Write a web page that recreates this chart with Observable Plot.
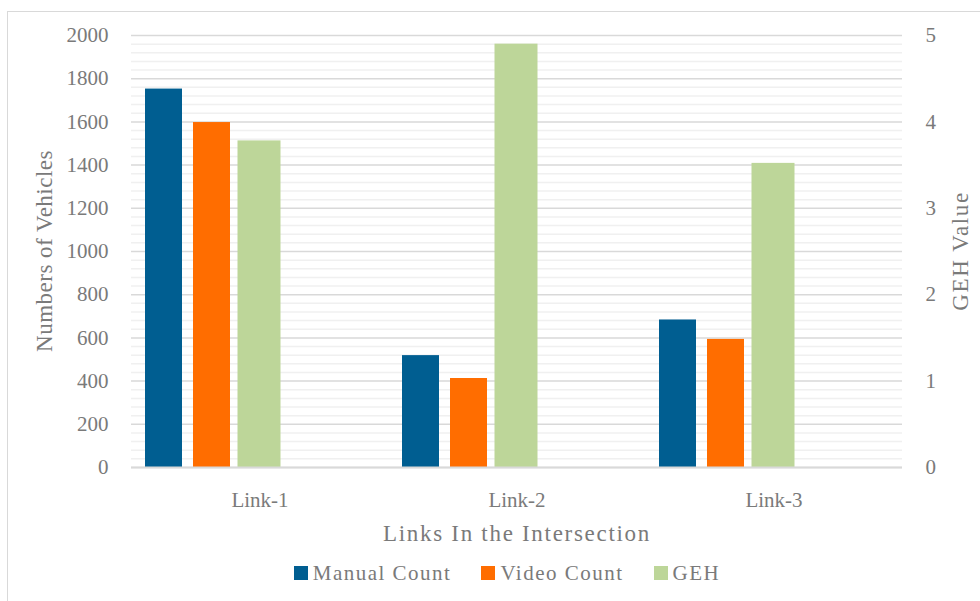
<!DOCTYPE html>
<html>
<head>
<meta charset="utf-8">
<script src="https://cdn.jsdelivr.net/npm/d3@7"></script>
<script src="https://cdn.jsdelivr.net/npm/@observablehq/plot@0.6"></script>
<style>
  body { margin: 0; background: #fff; font-family: "Liberation Serif", serif; }
  #wrap { position: relative; width: 980px; height: 601px; overflow: hidden; background: #fff; }
  #frame { position: absolute; left: 7px; top: 11px; right: -10px; bottom: -10px;
           border-left: 1.5px solid #d9d9d9; border-top: 1.5px solid #d9d9d9; pointer-events: none; }
  #chart svg { display: block; }
  .legend { display: flex; justify-content: center; align-items: center; height: 42px;
            padding-left: 34px; font-size: 21px; letter-spacing: 1.5px; color: #7a7a7a; }
  .legend .item { display: flex; align-items: center; margin: 0 15px; }
  .legend .sw { width: 14px; height: 14px; margin-right: 5px; }
</style>
</head>
<body>
<div id="wrap">
  <div id="frame"></div>
  <div id="chart"></div>
  <div class="legend" id="legend"></div>
</div>
<script>
// ---- data ----
const links = ["Link-1", "Link-2", "Link-3"];
const series = ["Manual Count", "Video Count", "GEH"];
const manualCount = [1752, 518, 683];
const videoCount = [1597, 412, 593];
const gehValue = [3.78, 4.90, 3.52];
const leftTicks = [0, 200, 400, 600, 800, 1000, 1200, 1400, 1600, 1800, 2000];
const rightTicks = [0, 1, 2, 3, 4, 5];
const minorTicks = [40, 80, 120, 160, 240, 280, 320, 360, 440, 480, 520, 560, 640, 680, 720, 760,
  840, 880, 920, 960, 1040, 1080, 1120, 1160, 1240, 1280, 1320, 1360, 1440, 1480, 1520, 1560,
  1640, 1680, 1720, 1760, 1840, 1880, 1920, 1960];
const colors = ["#005e91", "#ff6d00", "#bdd699"];
const xTitle = "Links In the Intersection";
const yTitle = "Numbers of Vehicles";
const y2Title = "GEH Value";

// ---- build table ----
const leftMax = leftTicks[leftTicks.length - 1];
const rightMax = rightTicks[rightTicks.length - 1];
const k = leftMax / rightMax;
const rows = links.flatMap((l, i) => [
  {link: l, series: series[0], v: manualCount[i]},
  {link: l, series: series[1], v: videoCount[i]},
  {link: l, series: series[2], v: gehValue[i] * k}
]);
const slots = [...series, "slot-4", "slot-5"];

const chart = Plot.plot({
  width: 980,
  height: 552,
  marginLeft: 131,
  marginRight: 78,
  marginTop: 35,
  marginBottom: 85,
  style: {fontFamily: "'Liberation Serif', serif", fontSize: "21px", color: "#7a7a7a", background: "transparent"},
  fx: {domain: links, padding: 0, label: null},
  x: {domain: slots, paddingInner: 0.23, paddingOuter: 0.28, axis: null},
  y: {domain: [0, leftMax], axis: null},
  color: {domain: series, range: colors},
  marks: [
    Plot.ruleY(minorTicks, {stroke: "#f0f0f0", strokeWidth: 1.5}),
    Plot.ruleY(leftTicks, {stroke: "#d9d9d9", strokeWidth: 1.5}),
    Plot.barY(rows.filter(d => d.series !== "GEH"), {fx: "link", x: "series", y: "v", fill: "series"}),
    Plot.barY(rows.filter(d => d.series === "GEH"), {fx: "link", x: "series", y: "v", fill: "series", insetLeft: -3.5, insetRight: -2.5}),
    Plot.ruleY([0], {stroke: "#d9d9d9", strokeWidth: 2}),
    Plot.axisFx({anchor: "bottom", tickSize: 0, tickPadding: 25, label: null}),
    Plot.axisY({anchor: "left", ticks: leftTicks, tickFormat: d => String(d), tickSize: 0, tickPadding: 23, label: null}),
    Plot.axisY({anchor: "right", ticks: rightTicks.map(d => d * k), tickFormat: d => String(d / k), tickSize: 0, tickPadding: 23, label: null})
  ]
});
document.getElementById("chart").appendChild(chart);

// axis titles
const svg = d3.select(chart);
svg.append("text").text(yTitle)
  .attr("transform", "translate(52,251) rotate(-90)")
  .attr("text-anchor", "middle").attr("fill", "#7a7a7a")
  .style("font-size", "23px").style("letter-spacing", "0.5px");
svg.append("text").text(y2Title)
  .attr("transform", "translate(968,251) rotate(-90)")
  .attr("text-anchor", "middle").attr("fill", "#7a7a7a")
  .style("font-size", "23px").style("letter-spacing", "1.6px");
svg.append("text").text(xTitle)
  .attr("x", 517).attr("y", 541)
  .attr("text-anchor", "middle").attr("fill", "#7a7a7a")
  .style("font-size", "23px").style("letter-spacing", "1.7px");

// legend
const legend = d3.select("#legend");
series.forEach((s, i) => {
  const item = legend.append("div").attr("class", "item");
  item.append("div").attr("class", "sw").style("background", colors[i]);
  item.append("span").text(s);
});
</script>
</body>
</html>
